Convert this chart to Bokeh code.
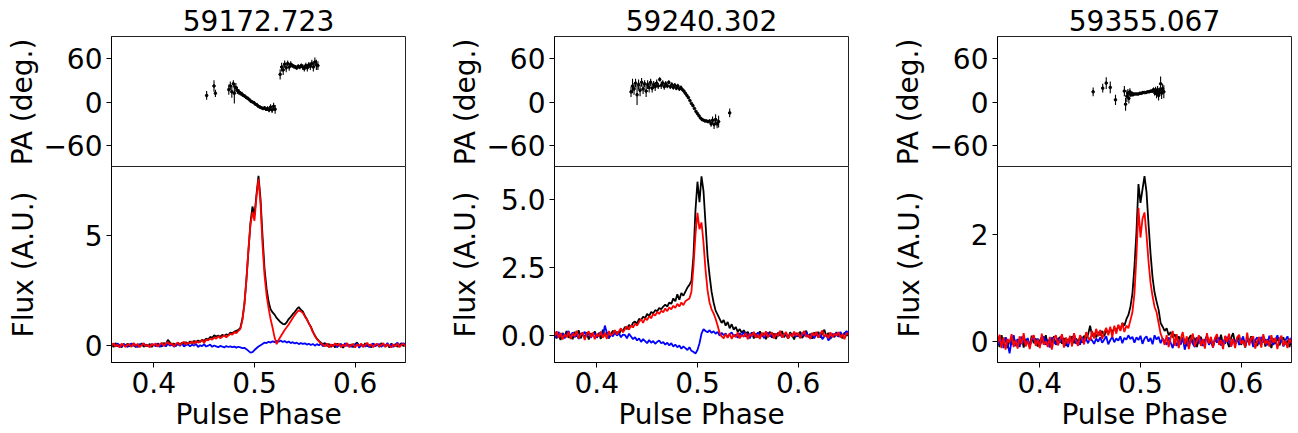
import numpy as np
from bokeh.plotting import figure
from bokeh.layouts import row, column
from bokeh.models import Range1d, FixedTicker, PrintfTickFormatter
from bokeh.embed import file_html
from bokeh.resources import INLINE

FONT = "DejaVu Sans"
FS = "28px"

titles = ["59172.723", "59240.302", "59355.067"]
x_label = "Pulse Phase"
pa_label = "PA (deg.)"
flux_label = "Flux (A.U.)"

# pulse-phase bins (0.358 ... 0.650, step 0.002)
phase = np.round(0.358 + 0.002 * np.arange(147), 3)

# ---------- 59172.723 ----------
f1_I = [
    0.05, -0.08, 0.10, -0.05, 0.02, -0.10, 0.06, -0.03, 0.08, -0.06,
    0.00, 0.07, -0.09, 0.04, -0.02, 0.09, -0.07, 0.03, -0.04, 0.06,
    -0.08, 0.05, -0.03, 0.08, 0.00, -0.06, 0.10, 0.04, 0.25, 0.12,
    0.02, 0.08, -0.04, 0.10, 0.03, 0.12, 0.05, 0.14, 0.08, 0.18,
    0.10, 0.20, 0.12, 0.22, 0.16, 0.25, 0.20, 0.30, 0.26, 0.38,
    0.34, 0.45, 0.40, 0.44, 0.38, 0.48, 0.42, 0.50, 0.46, 0.58,
    0.55, 0.62, 0.66, 0.70, 0.80, 1.20, 1.90, 3.00, 4.30, 5.60,
    6.35, 5.95, 6.90, 7.75, 6.70, 5.00, 3.50, 2.60, 2.00, 1.65,
    1.50, 1.40, 1.25, 1.15, 1.05, 0.98, 0.95, 1.05, 1.20, 1.30,
    1.42, 1.52, 1.65, 1.75, 1.62, 1.55, 1.35, 1.20, 1.00, 0.85,
    0.62, 0.45, 0.30, 0.20, 0.12, 0.05, 0.10, -0.04, 0.06, -0.08,
    0.03, -0.10, 0.07, -0.02, 0.05, -0.12, 0.02, 0.08, -0.06, 0.04,
    -0.09, 0.06, 0.12, -0.03, 0.01, -0.07, 0.09, -0.05, 0.03, -0.10,
    0.07, -0.02, 0.05, -0.08, 0.10, 0.00, -0.06, 0.04, -0.11, 0.08,
    -0.03, 0.05, -0.07, 0.02, 0.09, -0.04, 0.03]
f1_L = [
    -0.03, 0.09, -0.06, 0.04, -0.11, 0.07, 0.00, -0.08, 0.05, 0.02,
    -0.07, 0.10, -0.04, 0.06, -0.09, 0.01, 0.08, -0.05, 0.03, -0.10,
    0.06, -0.02, 0.09, -0.07, 0.04, 0.11, -0.03, 0.07, 0.15, 0.02,
    0.09, -0.05, 0.06, 0.13, 0.00, 0.10, 0.16, 0.04, 0.12, 0.08,
    0.18, 0.06, 0.20, 0.12, 0.15, 0.24, 0.10, 0.26, 0.22, 0.30,
    0.25, 0.36, 0.30, 0.42, 0.32, 0.38, 0.46, 0.36, 0.44, 0.52,
    0.48, 0.60, 0.55, 0.66, 0.75, 1.15, 1.85, 3.00, 4.40, 5.50,
    6.10, 5.70, 6.80, 7.60, 6.50, 4.60, 3.20, 2.30, 1.70, 1.20,
    0.80, 0.35, 0.05, 0.25, 0.40, 0.55, 0.70, 0.82, 0.95, 1.10,
    1.25, 1.38, 1.50, 1.60, 1.55, 1.48, 1.32, 1.18, 1.00, 0.82,
    0.60, 0.42, 0.28, 0.18, 0.08, 0.02, -0.05, 0.08, -0.10, 0.04,
    -0.06, 0.09, -0.02, 0.07, -0.09, 0.03, -0.05, 0.10, -0.08, 0.01,
    0.06, -0.11, 0.04, -0.03, 0.08, -0.07, 0.02, 0.11, -0.04, 0.05,
    -0.09, 0.03, 0.07, -0.06, 0.01, 0.09, -0.08, 0.05, -0.02, -0.10,
    0.04, -0.05, 0.08, -0.09, 0.02, 0.06, -0.04]
f1_V = [
    0.02, 0.06, -0.04, 0.08, 0.00, -0.06, 0.05, 0.01, -0.08, 0.04,
    0.07, -0.03, 0.03, -0.09, 0.06, 0.00, 0.09, -0.05, 0.02, -0.07,
    0.05, 0.01, -0.04, 0.07, -0.08, 0.03, 0.00, -0.05, 0.06, -0.02,
    0.04, -0.07, 0.02, 0.05, -0.03, 0.08, -0.06, 0.01, 0.04, -0.05,
    0.03, -0.02, 0.06, -0.08, 0.00, -0.04, 0.05, -0.06, -0.02, 0.03,
    -0.07, -0.01, -0.05, -0.09, -0.03, -0.06, -0.10, -0.04, -0.08, -0.05,
    -0.09, -0.06, -0.11, -0.07, -0.10, -0.13, -0.12, -0.18, -0.26, -0.34,
    -0.32, -0.22, -0.14, -0.06, 0.00, 0.06, 0.12, 0.10, 0.16, 0.12,
    0.18, 0.14, 0.20, 0.16, 0.22, 0.15, 0.19, 0.12, 0.17, 0.10,
    0.14, 0.08, 0.12, 0.05, 0.10, 0.06, 0.09, 0.03, 0.07, 0.01,
    0.06, -0.02, 0.05, 0.00, 0.08, -0.05, 0.03, 0.07, -0.08, 0.02,
    -0.04, 0.06, -0.10, 0.01, 0.05, -0.06, 0.09, -0.03, 0.02, -0.08,
    0.04, -0.01, 0.07, -0.12, 0.03, 0.00, -0.06, 0.05, -0.09, 0.02,
    0.08, -0.04, 0.01, 0.06, -0.07, 0.03, -0.02, 0.10, -0.05, 0.04,
    -0.08, 0.02, 0.12, -0.03, 0.05, 0.09, 0.03]
pa1_phase = [0.4525, 0.4598, 0.4612,
             0.4745, 0.4760, 0.4775, 0.4790, 0.4800, 0.4815, 0.4830, 0.4845,
             0.4860, 0.4875, 0.4890, 0.4905, 0.4920, 0.4935, 0.4950, 0.4965,
             0.4980, 0.4995, 0.5010, 0.5025, 0.5040, 0.5055, 0.5070, 0.5085,
             0.5100, 0.5115, 0.5130, 0.5145, 0.5160, 0.5175, 0.5190, 0.5205,
             0.5255, 0.5270, 0.5285, 0.5300, 0.5315, 0.5330, 0.5345, 0.5360,
             0.5375, 0.5390, 0.5405, 0.5420, 0.5435, 0.5450, 0.5465, 0.5480,
             0.5495, 0.5510, 0.5525, 0.5540, 0.5555, 0.5570, 0.5585, 0.5600,
             0.5615, 0.5630]
pa1_deg = [9, 22, 12,
           17, 22, 14, 25, 12, 20, 16, 14, 12, 11, 9, 8, 6, 5, 3, 1,
           0, -1, -3, -4, -6, -7, -8, -9, -8, -10, -9, -11, -7, -11, -6, -10,
           38, 48, 44, 52, 47, 53, 48, 52, 50, 49, 48, 47, 49, 48, 50, 48,
           46, 50, 47, 51, 49, 53, 48, 55, 51, 50]
pa1_err = [6, 8, 5,
           7, 6, 8, 5, 14, 6, 5, 4, 3, 3, 2, 2, 2, 1.5, 1.5, 1.5,
           1, 1, 1, 1, 1, 1.5, 1.5, 2, 2, 2, 3, 3, 4, 4, 5, 6,
           7, 6, 7, 5, 6, 4, 5, 4, 3, 3, 3, 3, 3, 3, 3, 4,
           4, 4, 5, 4, 5, 5, 6, 6, 7, 6]

# ---------- 59240.302 ----------
f2_I = [
    0.10, -0.12, 0.05, -0.18, 0.08, -0.05, 0.15, -0.10, 0.02, -0.15,
    0.12, -0.06, 0.18, -0.12, 0.04, -0.08, 0.10, -0.16, 0.06, -0.02,
    0.14, -0.10, 0.08, -0.14, 0.20, -0.04, 0.10, -0.12, 0.03, 0.16,
    0.05, 0.12, 0.02, 0.20, 0.15, 0.30, 0.22, 0.38, 0.30, 0.45,
    0.50, 0.42, 0.60, 0.55, 0.68, 0.62, 0.78, 0.70, 0.85, 0.80,
    0.92, 0.88, 1.00, 0.95, 1.05, 1.12, 1.05, 1.20, 1.15, 1.35,
    1.25, 1.50, 1.30, 1.55, 1.45, 1.60, 1.75, 1.85, 2.00, 2.90,
    4.60, 5.65, 4.90, 5.85, 5.30, 4.10, 2.90, 2.20, 1.60, 1.20,
    0.90, 0.75, 0.60, 0.45, 0.55, 0.35, 0.48, 0.25, 0.40, 0.20,
    0.30, 0.12, 0.22, 0.08, 0.18, 0.05, 0.12, -0.06, 0.10, -0.12,
    0.05, -0.08, 0.14, -0.04, 0.08, -0.15, 0.02, 0.12, -0.10, 0.06,
    -0.14, 0.09, -0.03, 0.15, -0.08, 0.04, -0.12, 0.10, 0.00, -0.16,
    0.08, -0.05, 0.13, -0.11, 0.02, 0.16, -0.07, 0.05, -0.13, 0.10,
    -0.02, 0.12, -0.09, 0.06, 0.20, -0.04, 0.08, -0.14, 0.03, -0.08,
    0.11, -0.06, 0.04, -0.12, 0.09, -0.03, 0.06]
f2_L = [
    -0.05, 0.14, -0.10, 0.08, -0.16, 0.03, -0.08, 0.12, -0.14, 0.06,
    -0.04, 0.16, -0.12, 0.02, 0.10, -0.18, 0.05, 0.14, -0.08, 0.09,
    -0.15, 0.04, -0.06, 0.12, -0.10, 0.08, -0.14, 0.15, -0.02, 0.06,
    0.18, 0.02, 0.14, 0.25, 0.10, 0.22, 0.32, 0.20, 0.36, 0.28,
    0.42, 0.35, 0.48, 0.58, 0.45, 0.62, 0.55, 0.70, 0.62, 0.78,
    0.72, 0.85, 0.78, 0.90, 0.84, 0.98, 0.88, 1.02, 0.95, 1.08,
    1.00, 1.15, 1.05, 1.20, 1.10, 1.25, 1.30, 1.35, 1.60, 2.50,
    3.70, 4.50, 3.90, 4.15, 3.40, 2.40, 1.65, 1.20, 0.95, 0.80,
    0.60, 0.35, 0.08, -0.05, -0.12, 0.04, -0.10, 0.06, -0.14, 0.02,
    -0.08, 0.10, -0.12, 0.00, -0.06, 0.08, -0.15, 0.05, -0.04, 0.12,
    -0.10, 0.03, -0.14, 0.09, -0.05, 0.14, -0.08, 0.02, 0.10, -0.12,
    0.06, -0.04, 0.16, -0.09, 0.02, 0.11, -0.13, 0.05, -0.06, 0.13,
    -0.02, 0.09, -0.11, 0.04, 0.15, -0.07, 0.01, -0.14, 0.08, -0.03,
    0.12, -0.10, 0.05, 0.17, -0.05, 0.03, -0.12, 0.10, -0.08, 0.06,
    -0.03, 0.11, -0.09, 0.04, -0.15, 0.08, 0.02]
f2_V = [
    0.08, -0.10, 0.12, -0.04, 0.06, -0.12, 0.02, 0.15, -0.06, 0.10,
    -0.08, 0.04, -0.14, 0.07, 0.00, 0.12, -0.05, 0.09, -0.10, 0.03,
    0.06, -0.09, 0.02, 0.11, -0.06, 0.35, 0.08, -0.10, 0.04, -0.05,
    0.10, -0.02, 0.06, -0.08, 0.02, 0.00, -0.12, 0.05, -0.05, -0.15,
    -0.08, -0.20, -0.12, -0.25, -0.15, -0.22, -0.30, -0.18, -0.28, -0.22,
    -0.32, -0.25, -0.20, -0.30, -0.26, -0.35, -0.28, -0.38, -0.30, -0.42,
    -0.35, -0.45, -0.38, -0.50, -0.42, -0.48, -0.55, -0.45, -0.58, -0.62,
    -0.68, -0.55, -0.30, 0.05, 0.22, 0.15, 0.10, 0.18, 0.08, 0.14,
    0.05, 0.12, -0.02, 0.08, 0.00, 0.06, -0.08, 0.04, 0.10, -0.05,
    0.02, -0.10, 0.07, -0.03, 0.12, -0.06, 0.04, -0.12, 0.08, 0.00,
    -0.07, 0.10, -0.02, 0.05, -0.11, 0.03, 0.09, -0.06, 0.02, -0.09,
    0.06, -0.04, 0.11, -0.08, 0.01, 0.07, -0.13, 0.04, -0.02, 0.10,
    -0.06, 0.03, -0.10, 0.08, -0.03, 0.12, -0.07, 0.00, 0.06, -0.12,
    0.04, -0.08, 0.09, -0.15, -0.05, 0.02, -0.20, -0.10, 0.05, -0.04,
    0.08, -0.06, 0.12, -0.02, 0.05, 0.15, 0.03]
pa2_phase = [0.4340, 0.4355, 0.4370, 0.4385, 0.4400, 0.4415, 0.4430, 0.4445,
             0.4460, 0.4475, 0.4490, 0.4505, 0.4520, 0.4535, 0.4550, 0.4565,
             0.4580, 0.4595, 0.4610, 0.4625, 0.4640, 0.4655, 0.4670, 0.4685,
             0.4700, 0.4715, 0.4730, 0.4745, 0.4760, 0.4775, 0.4790, 0.4805,
             0.4820, 0.4835, 0.4850, 0.4865, 0.4880, 0.4895, 0.4910, 0.4925,
             0.4940, 0.4955, 0.4970, 0.4985, 0.5000, 0.5015, 0.5030, 0.5045,
             0.5060, 0.5075, 0.5090, 0.5105, 0.5120, 0.5135, 0.5150, 0.5165,
             0.5180, 0.5195, 0.5210, 0.5320]
pa2_deg = [14, 22, 18, 26, 10, 24, 16, 27, 18, 25, 15, 24, 20, 27, 19, 24,
           21, 26, 22, 31, 23, 26, 21, 25, 22, 27, 21, 24, 20, 23, 19, 22,
           18, 20, 17, 15, 12, 9, 6, 2, -2, -5, -9, -13, -16, -19,
           -22, -24, -25, -26, -26, -27, -26, -30, -25, -31, -24, -30, -27, -15]
pa2_err = [7, 10, 8, 6, 14, 7, 8, 6, 7, 5, 8, 6, 7, 5, 6, 5,
           6, 5, 4, 3, 5, 4, 4, 4, 3, 3, 3, 3, 3, 3, 3, 3,
           2.5, 2.5, 2, 2, 2, 1.5, 1.5, 1, 1, 1, 1, 1, 1, 1,
           1, 1, 1, 1.5, 1.5, 2, 2, 4, 5, 6, 7, 6, 8, 6]

# ---------- 59355.067 ----------
f3_I = [
    0.06, -0.10, 0.12, -0.04, 0.08, -0.12, 0.03, -0.06, 0.10, -0.08,
    0.04, -0.02, 0.09, -0.11, 0.05, 0.00, -0.07, 0.11, -0.03, 0.06,
    -0.09, 0.02, 0.08, -0.05, 0.12, -0.08, 0.04, -0.02, 0.10, -0.06,
    0.03, 0.09, -0.04, 0.07, -0.08, 0.05, 0.01, 0.10, -0.03, 0.06,
    0.00, 0.08, -0.02, 0.11, 0.04, 0.14, 0.30, 0.10, 0.16, 0.08,
    0.18, 0.12, 0.20, 0.10, 0.22, 0.15, 0.24, 0.18, 0.26, 0.20,
    0.30, 0.22, 0.35, 0.30, 0.42, 0.50, 0.65, 0.90, 1.40, 2.05,
    2.95, 2.60, 2.85, 3.10, 2.80, 2.20, 1.65, 1.20, 0.92, 0.75,
    0.60, 0.35, 0.28, 0.20, 0.25, 0.12, 0.18, 0.08, 0.14, 0.03,
    0.10, -0.05, 0.08, 0.02, -0.08, 0.06, 0.12, -0.03, 0.07, -0.10,
    0.04, 0.09, -0.06, 0.02, 0.11, -0.04, 0.06, -0.09, 0.03, 0.08,
    -0.02, 0.13, -0.07, 0.05, 0.01, -0.10, 0.07, 0.16, -0.04, 0.02,
    0.09, -0.06, 0.04, -0.11, 0.06, 0.00, 0.10, -0.05, 0.03, -0.08,
    0.07, -0.02, 0.11, -0.09, 0.04, 0.01, -0.12, 0.06, -0.04, 0.09,
    -0.07, 0.03, 0.08, -0.05, 0.02, -0.10, 0.05]
f3_L = [
    -0.04, 0.13, -0.12, 0.08, -0.15, 0.05, -0.02, 0.14, -0.10, 0.03,
    -0.13, 0.10, -0.05, 0.16, -0.09, 0.02, -0.14, 0.07, 0.12, -0.08,
    0.04, -0.12, 0.15, -0.06, 0.01, -0.10, 0.09, -0.15, 0.06, 0.12,
    -0.07, 0.03, 0.14, -0.11, 0.08, -0.04, 0.11, -0.09, 0.16, 0.02,
    -0.08, 0.12, 0.05, -0.05, 0.18, 0.08, 0.02, 0.20, 0.06, 0.24,
    0.10, 0.22, 0.05, 0.18, 0.26, 0.12, 0.28, 0.08, 0.30, 0.15,
    0.32, 0.20, 0.35, 0.18, 0.30, 0.25, 0.40, 0.55, 0.90, 1.60,
    2.50, 1.95, 2.30, 2.42, 2.00, 1.50, 1.10, 0.85, 0.65, 0.55,
    0.35, 0.15, 0.05, -0.06, 0.12, -0.10, 0.08, 0.20, -0.08, 0.14,
    -0.12, 0.06, 0.18, -0.05, 0.10, -0.14, 0.04, 0.15, -0.09, 0.02,
    0.12, -0.08, 0.05, -0.13, 0.16, -0.03, 0.09, -0.11, 0.07, 0.14,
    -0.06, 0.03, -0.14, 0.11, 0.00, 0.15, -0.09, 0.05, -0.12, 0.08,
    0.13, -0.04, 0.02, -0.10, 0.17, -0.07, 0.06, 0.10, -0.13, 0.01,
    0.09, -0.11, 0.14, -0.05, 0.03, -0.09, 0.12, -0.02, 0.07, -0.14,
    0.05, 0.11, -0.08, 0.02, -0.12, 0.06, -0.03]
f3_V = [
    0.10, -0.06, 0.04, -0.12, 0.08, -0.03, -0.22, 0.02, 0.12, -0.08,
    0.05, -0.10, 0.09, 0.00, -0.05, 0.07, -0.09, 0.03, 0.11, -0.04,
    0.06, -0.08, 0.02, 0.10, -0.06, 0.04, -0.11, 0.08, 0.00, -0.05,
    0.07, -0.02, 0.12, -0.07, 0.03, -0.10, 0.05, 0.01, 0.14, -0.04,
    0.02, -0.06, 0.09, 0.00, 0.05, -0.03, 0.07, 0.02, -0.04, 0.06,
    0.00, 0.08, -0.02, 0.04, 0.10, -0.05, 0.03, 0.09, -0.01, 0.06,
    0.02, 0.10, -0.03, 0.07, 0.04, 0.12, 0.05, 0.09, -0.02, 0.08,
    0.03, 0.11, -0.04, 0.06, 0.10, 0.00, 0.07, -0.05, 0.12, 0.04,
    0.09, -0.03, 0.06, 0.01, -0.06, 0.08, -0.02, -0.12, 0.05, -0.08,
    0.03, -0.05, 0.07, -0.15, 0.02, -0.09, 0.06, -0.04, -0.10, 0.08,
    -0.03, 0.05, -0.08, 0.02, 0.10, -0.06, 0.01, -0.11, 0.06, -0.02,
    0.08, -0.07, 0.03, -0.04, 0.09, 0.00, -0.09, 0.05, -0.03, 0.07,
    -0.06, 0.02, 0.10, -0.08, 0.04, -0.02, 0.06, -0.10, 0.03, 0.08,
    -0.05, 0.09, -0.01, 0.05, -0.07, 0.11, 0.02, -0.06, 0.04, 0.12,
    -0.03, 0.06, -0.09, 0.03, 0.10, -0.04, 0.08]
pa3_phase = [0.4530, 0.4625, 0.4660, 0.4700, 0.4752, 0.4840, 0.4852, 0.4865,
             0.4875, 0.4885, 0.4895, 0.4905, 0.4915, 0.4925, 0.4935, 0.4950,
             0.4965, 0.4980, 0.4995, 0.5010, 0.5025, 0.5040, 0.5055, 0.5070,
             0.5085, 0.5100, 0.5115, 0.5130, 0.5140, 0.5150, 0.5160, 0.5170,
             0.5180, 0.5190, 0.5200, 0.5210, 0.5220, 0.5232]
pa3_deg = [14, 19, 26, 20, 3, 15, -3, 8, 12, 5, 14, 10, 12, 10, 11, 11,
           11, 11, 12, 12, 13, 13, 13, 14, 14, 15, 15, 17, 13, 16, 11, 17,
           9, 14, 25, 12, 18, 14]
pa3_err = [6, 6, 8, 8, 7, 7, 9, 8, 6, 7, 5, 3, 2, 2, 1.5, 1,
           1, 1, 1, 1, 1, 1, 1, 1, 1.5, 1.5, 2, 3, 4, 5, 6, 5,
           7, 6, 10, 8, 7, 9]

flux_I = [f1_I, f2_I, f3_I]
flux_L = [f1_L, f2_L, f3_L]
flux_V = [f1_V, f2_V, f3_V]
pa_phase = [pa1_phase, pa2_phase, pa3_phase]
pa_deg = [pa1_deg, pa2_deg, pa3_deg]
pa_err = [pa1_err, pa2_err, pa3_err]

for a in flux_I + flux_L + flux_V:
    assert len(a) == len(phase), len(a)
for a, b, c in zip(pa_phase, pa_deg, pa_err):
    assert len(a) == len(b) == len(c), (len(a), len(b), len(c))

xlim = (0.358, 0.650)
x_ticks = [0.4, 0.5, 0.6]
pa_lim = (-90, 90)
pa_ticks = [-60, 0, 60]
flux_lim = [(-0.79, 8.18), (-1.01, 6.21), (-0.39, 3.28)]
flux_ticks = [[0, 5], [0, 2.5, 5], [0, 2]]
flux_fmt = ["%d", "%.1f", "%d"]

# layout (px)
L, FW = 111, 294
R = [38, 38, 7]
T, PH, FH, B = 36, 131, 196, 70
pa_lab_standoff = 1
flux_lab_standoff = [42, 16, 42]


def style_axis(ax):
    ax.major_label_text_font = FONT
    ax.major_label_text_font_size = FS
    ax.major_label_text_color = "black"
    ax.axis_label_text_font = FONT
    ax.axis_label_text_font_size = FS
    ax.axis_label_text_font_style = "normal"
    ax.axis_label_text_color = "black"
    ax.major_tick_in = 0
    ax.major_tick_out = 5
    ax.major_tick_line_color = "black"
    ax.major_tick_line_width = 1
    ax.minor_tick_line_color = None
    ax.axis_line_color = "black"
    ax.major_label_standoff = 4


def style_fig(p):
    p.xgrid.visible = False
    p.ygrid.visible = False
    p.outline_line_color = "#222222"
    p.outline_line_width = 1
    p.background_fill_color = "white"
    p.border_fill_color = "white"


cols = []
for i in range(3):
    xr = Range1d(*xlim)
    pa = figure(frame_width=FW, frame_height=PH, x_range=xr,
                y_range=Range1d(*pa_lim), x_axis_location=None,
                output_backend="svg", toolbar_location=None,
                min_border_left=L, min_border_right=R[i],
                min_border_top=T, min_border_bottom=0, title=titles[i])
    style_fig(pa)
    pa.title.align = "center"
    pa.title.vertical_align = "top"
    pa.title.text_font = FONT
    pa.title.text_font_size = FS
    pa.title.text_font_style = "normal"
    pa.title.text_color = "black"
    pa.title.standoff = 8
    style_axis(pa.yaxis[0])
    pa.yaxis.ticker = FixedTicker(ticks=pa_ticks)
    pa.yaxis.major_label_overrides = {-60: "\u221260"}
    pa.yaxis.axis_label = pa_label
    pa.yaxis.axis_label_standoff = pa_lab_standoff
    ph = np.array(pa_phase[i])
    dg = np.array(pa_deg[i], dtype=float)
    er = np.array(pa_err[i], dtype=float)
    pa.segment(x0=ph, y0=dg - er, x1=ph, y1=dg + er, line_color="black",
               line_width=1.1)
    pa.scatter(ph, dg, size=2.6, color="black")

    lo, hi = flux_lim[i]
    fx = figure(frame_width=FW, frame_height=FH, x_range=xr,
                y_range=Range1d(lo, hi), output_backend="svg",
                toolbar_location=None, min_border_left=L,
                min_border_right=R[i], min_border_top=0,
                min_border_bottom=B + 1)
    fx.margin = (-1, 0, 0, 0)
    style_fig(fx)
    style_axis(fx.xaxis[0])
    style_axis(fx.yaxis[0])
    fx.xaxis.ticker = FixedTicker(ticks=x_ticks)
    fx.yaxis.ticker = FixedTicker(ticks=flux_ticks[i])
    fx.yaxis.formatter = PrintfTickFormatter(format=flux_fmt[i])
    fx.yaxis.axis_label = flux_label
    fx.yaxis.axis_label_standoff = flux_lab_standoff[i]
    fx.xaxis.axis_label = x_label
    fx.xaxis.axis_label_standoff = 2
    fx.line(phase, flux_I[i], line_color="black", line_width=1.8)
    fx.line(phase, flux_V[i], line_color="blue", line_width=1.8)
    fx.line(phase, flux_L[i], line_color="red", line_width=1.8)
    cols.append(column(pa, fx))

layout = row(*cols)
open("out.html", "w").write(file_html(layout, INLINE))
